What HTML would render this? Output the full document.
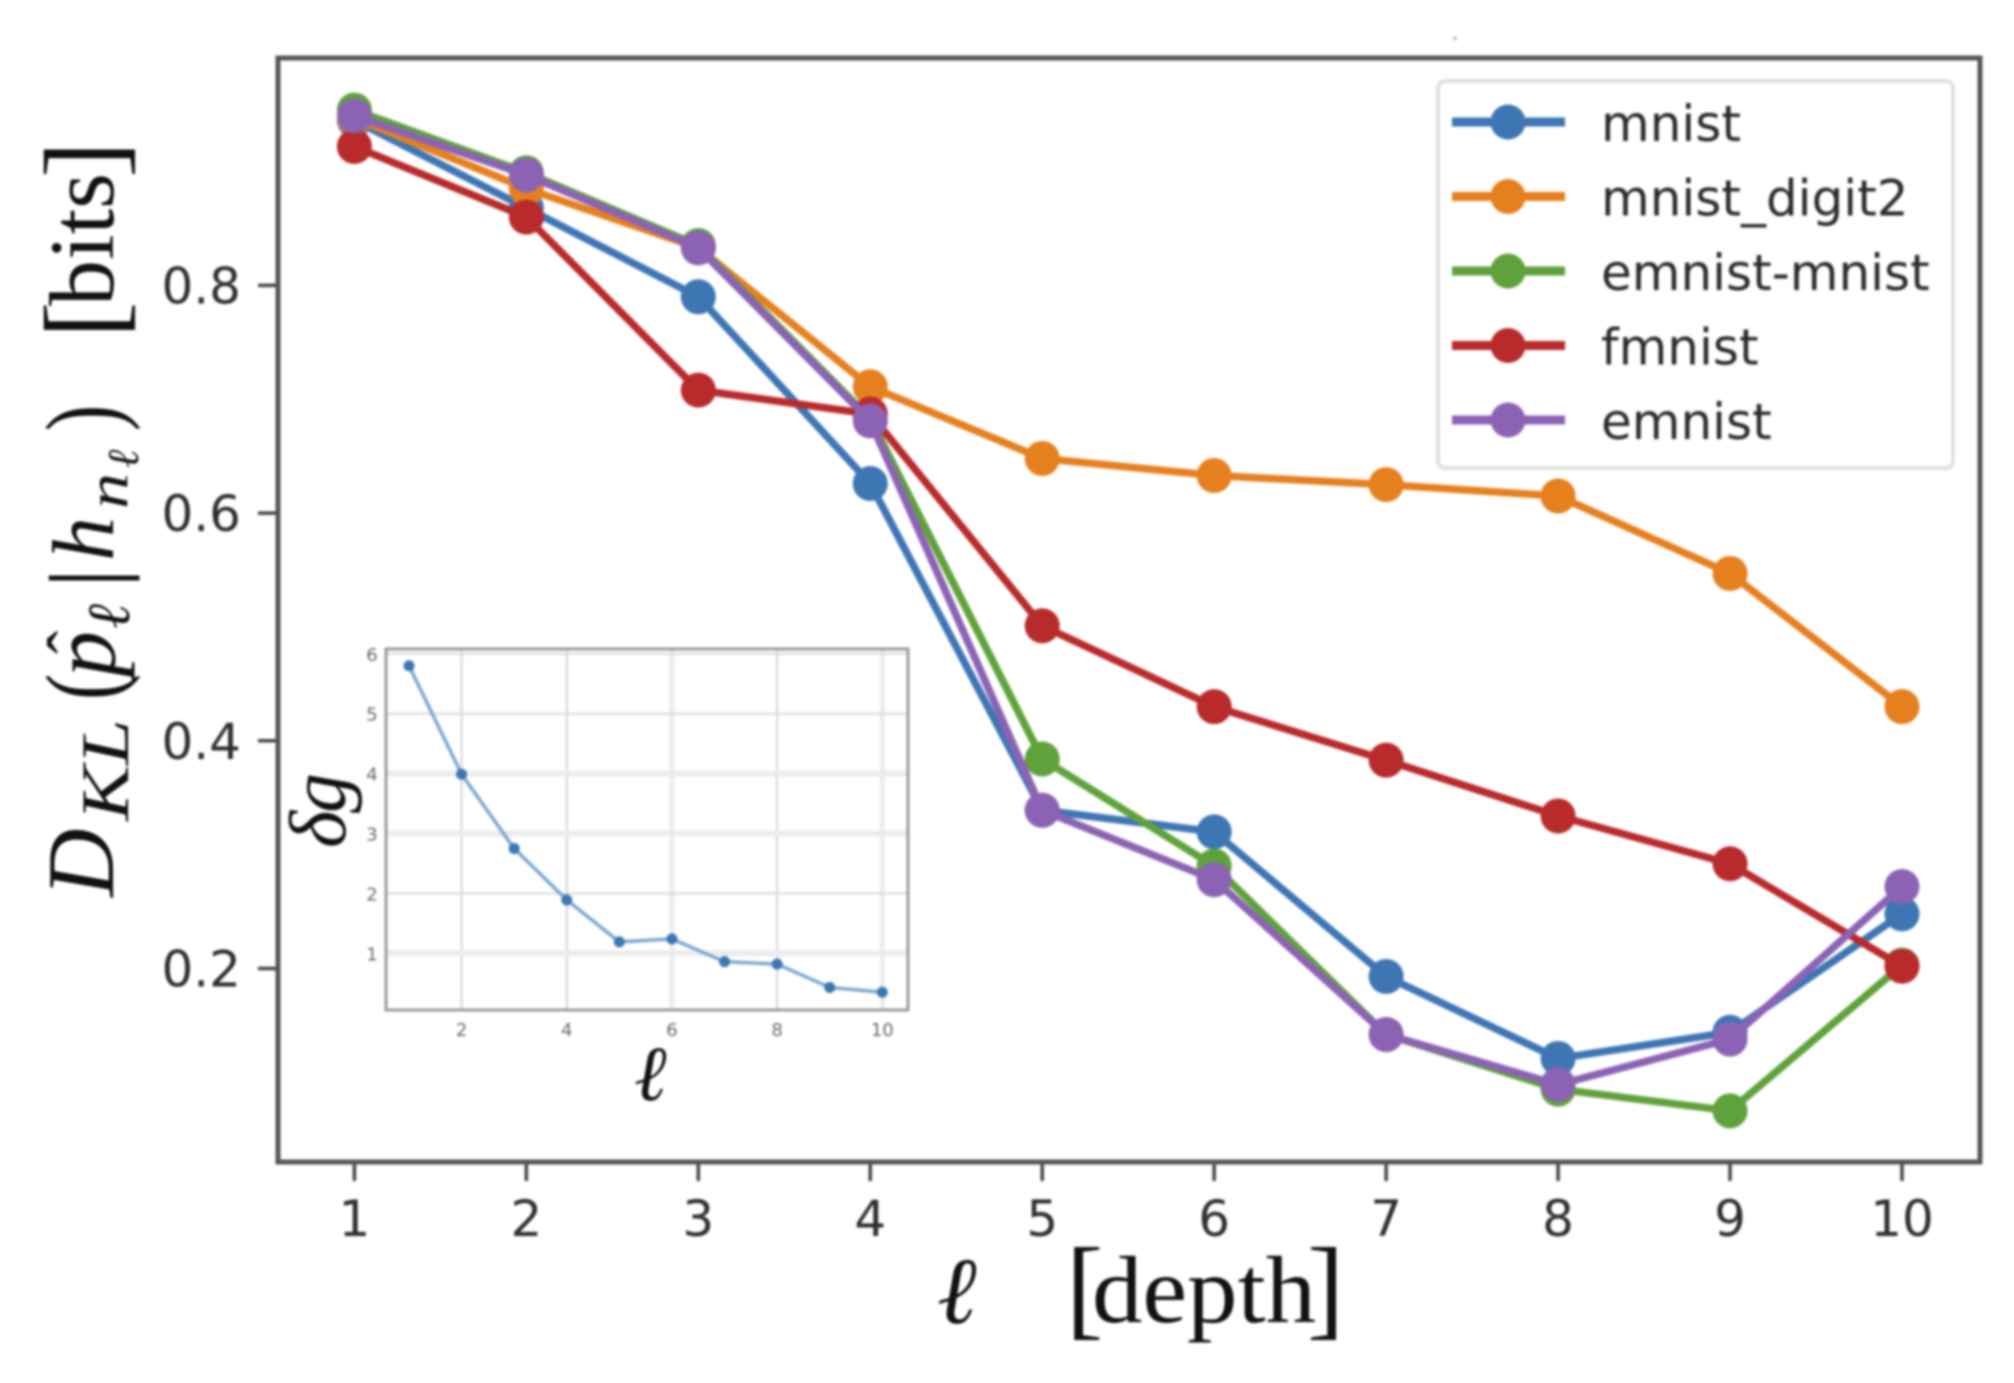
<!DOCTYPE html>
<html lang="en">
<head>
<meta charset="utf-8">
<title>KL divergence by depth</title>
<style>
  html, body { margin: 0; padding: 0; background: #fff; }
  #chart { display: block; width: 2014px; height: 1383px; filter: blur(1.3px); }
  .tick { font-family: "DejaVu Sans", sans-serif; font-size: 50px; fill: #2e2e2e; }
  .legend-text { font-family: "DejaVu Sans", sans-serif; font-size: 50px; fill: #2a2a2a; }
  .inset-tick { font-family: "DejaVu Sans", sans-serif; font-size: 18px; fill: #666; }
  .serif { font-family: "Liberation Serif", "DejaVu Serif", serif; fill: #111; }
  .it { font-style: italic; }
</style>
</head>
<body>
<svg id="chart" xmlns="http://www.w3.org/2000/svg" width="2014" height="1383" viewBox="0 0 2014 1383">
  <rect x="0" y="0" width="2014" height="1383" fill="#fff"/>
  <rect x="1453" y="37" width="4" height="3" fill="#bbb"/>
  <g id="main-plot"></g>
  <g id="inset-plot"></g>
  <g id="legend"></g>

  <g>
    <text class="serif it" font-size="95" transform="translate(113,897) rotate(-90)">D</text>
    <text class="serif it" font-size="68" textLength="102" lengthAdjust="spacingAndGlyphs" transform="translate(128,821) rotate(-90)">KL</text>
    <text class="serif" font-size="105" fill="#333" transform="translate(118,700) rotate(-90) scale(0.75,1)">(</text>
    <text class="serif it" font-size="92" transform="translate(115,677) rotate(-90)">p</text>
    <text class="serif" font-size="70" transform="translate(96,654) rotate(-90)">ˆ</text>
    <text class="serif it" font-size="60" transform="translate(129,629) rotate(-90)">ℓ</text>
    <text class="serif" font-size="100" transform="translate(118,588) rotate(-90)">|</text>
    <text class="serif it" font-size="88" transform="translate(113,561) rotate(-90)">h</text>
    <text class="serif it" font-size="58" textLength="36" lengthAdjust="spacingAndGlyphs" transform="translate(127,509) rotate(-90)">n</text>
    <text class="serif it" font-size="44" transform="translate(138,468) rotate(-90)">ℓ</text>
    <text class="serif" font-size="105" fill="#333" transform="translate(118,431) rotate(-90) scale(0.75,1)">)</text>
    <text class="serif" font-size="110" transform="translate(120,338) rotate(-90)">[</text>
    <text class="serif" font-size="92" textLength="133" lengthAdjust="spacingAndGlyphs" transform="translate(113,306) rotate(-90)">bits</text>
    <text class="serif" font-size="110" transform="translate(120,178) rotate(-90)">]</text>
  </g>

  <g>
    <text class="serif it" font-size="95" fill="#222" x="937" y="1323">ℓ</text>
    <text class="serif" font-size="112" x="1066" y="1325">[</text>
    <text class="serif" font-size="95" x="1092" y="1322" textLength="224" lengthAdjust="spacingAndGlyphs">depth</text>
    <text class="serif" font-size="112" x="1307" y="1325">]</text>
  </g>

  <g>
    <text class="serif it" font-size="80" textLength="75" lengthAdjust="spacing" transform="translate(345,848) rotate(-90)">δg</text>
  </g>
  <g>
    <text class="serif it" font-size="78" x="634" y="1100">ℓ</text>
  </g>
</svg>

<script>
const depths = [1, 2, 3, 4, 5, 6, 7, 8, 9, 10];
const mainYTicks = [0.2, 0.4, 0.6, 0.8];
const mnistValues = [0.945, 0.868, 0.790, 0.626, 0.339, 0.320, 0.193, 0.121, 0.144, 0.248];
const digit2Values = [0.947, 0.885, 0.833, 0.711, 0.648, 0.633, 0.625, 0.615, 0.547, 0.430];
const emnistMnistValues = [0.954, 0.899, 0.835, 0.683, 0.384, 0.290, 0.142, 0.094, 0.075, 0.203];
const fmnistValues = [0.922, 0.860, 0.708, 0.687, 0.501, 0.430, 0.383, 0.334, 0.292, 0.202];
const emnistValues = [0.949, 0.897, 0.833, 0.681, 0.339, 0.278, 0.142, 0.098, 0.138, 0.272];
const seriesNames = ['mnist', 'mnist_digit2', 'emnist-mnist', 'fmnist', 'emnist'];

const insetDepths = [1, 2, 3, 4, 5, 6, 7, 8, 9, 10];
const insetValues = [5.80, 3.99, 2.75, 1.89, 1.19, 1.24, 0.86, 0.82, 0.43, 0.35];
const insetXTicks = [2, 4, 6, 8, 10];
const insetYTicks = [1, 2, 3, 4, 5, 6];

const allSeries = [mnistValues, digit2Values, emnistMnistValues, fmnistValues, emnistValues];
const seriesColors = ['#3e76b4', '#e6801f', '#5fa23b', '#b92a2c', '#8c63b4'];

const NS = 'http://www.w3.org/2000/svg';
function make(tag, attrs, parent, text) {
  const el = document.createElementNS(NS, tag);
  for (const k in attrs) el.setAttribute(k, attrs[k]);
  if (text !== undefined) el.textContent = text;
  parent.appendChild(el);
  return el;
}
function linear(d0, d1, r0, r1) {
  return function (v) { return r0 + (v - d0) * (r1 - r0) / (d1 - d0); };
}
function slug(s) { return String(s).replace(/[^a-zA-Z0-9]+/g, '-').toLowerCase(); }

/* Main axes */
const xMain = linear(1, 10, 354.4, 1902);
const yMain = linear(0.2, 0.8, 968.5, 285.4);
const mainBox = { left: 278, right: 1980, top: 58, bottom: 1162 };
const mainG = document.getElementById('main-plot');

depths.forEach(function (d) {
  const tick = make('line', { x1: xMain(d), x2: xMain(d), y1: mainBox.bottom, y2: mainBox.bottom + 19, stroke: '#444', 'stroke-width': 3.5 }, mainG);
  
  
  const label = make('text', { class: 'tick', x: xMain(d), y: 1236, 'text-anchor': 'middle' }, mainG, String(d));
  
  
});
mainYTicks.forEach(function (t) {
  const tick = make('line', { x1: mainBox.left - 20, x2: mainBox.left, y1: yMain(t), y2: yMain(t), stroke: '#444', 'stroke-width': 3.5 }, mainG);
  
  
  const label = make('text', { class: 'tick', x: 241, y: yMain(t) + 18, 'text-anchor': 'end' }, mainG, t.toFixed(1));
  
  
});
const frame = make('rect', { x: mainBox.left, y: mainBox.top, width: mainBox.right - mainBox.left, height: mainBox.bottom - mainBox.top, fill: 'none', stroke: '#555', 'stroke-width': 5 }, mainG);



allSeries.forEach(function (values, i) {
  const name = slug(seriesNames[i]);
  const g = make('g', {}, mainG);
  
  
  const pts = values.map(function (v, j) { return xMain(depths[j]) + ',' + yMain(v); }).join(' ');
  const line = make('polyline', { points: pts, fill: 'none', stroke: seriesColors[i], 'stroke-width': 7.5, 'stroke-linejoin': 'round' }, g);
  
  
  values.forEach(function (v, j) {
    const dot = make('circle', { cx: xMain(depths[j]), cy: yMain(v), r: 17.5, fill: seriesColors[i] }, g);
    
    
  });
});

/* Legend */
const legendG = document.getElementById('legend');
const legendBox = make('rect', { x: 1438, y: 81, width: 515, height: 387, rx: 7, fill: '#fff', stroke: '#e0e0e0', 'stroke-width': 4 }, legendG);


seriesNames.forEach(function (name, i) {
  const y = 122 + i * 74.5;
  const entry = make('g', {}, legendG);
  
  
  const handle = make('line', { x1: 1452, x2: 1565, y1: y, y2: y, stroke: seriesColors[i], 'stroke-width': 9 }, entry);
  
  
  const marker = make('circle', { cx: 1508, cy: y, r: 17.5, fill: seriesColors[i] }, entry);
  
  
  const label = make('text', { class: 'legend-text', x: 1601, y: y + 19 }, entry, name);
  
  
});

/* Inset axes */
const xInset = linear(2, 10, 461.6, 882.3);
const yInset = linear(1, 5, 953.3, 713.7);
const insetBox = { left: 386, right: 908, top: 649, bottom: 1010 };
const insetG = document.getElementById('inset-plot');

insetXTicks.forEach(function (t) {
  const wide = t === 6 || t === 10;
  const grid = make('line', { x1: xInset(t), x2: xInset(t), y1: insetBox.top, y2: insetBox.bottom, stroke: wide ? '#ececec' : '#d4d4d4', 'stroke-width': wide ? 5 : 2 }, insetG);
  
  
  const label = make('text', { class: 'inset-tick', x: xInset(t), y: 1036, 'text-anchor': 'middle' }, insetG, String(t));
  
  
});
insetYTicks.forEach(function (t) {
  const wide = t === 4 || t === 3 || t === 1;
  const grid = make('line', { x1: insetBox.left, x2: insetBox.right, y1: yInset(t), y2: yInset(t), stroke: wide ? '#ececec' : '#d8d8d8', 'stroke-width': wide ? 6 : 2 }, insetG);
  
  
  const label = make('text', { class: 'inset-tick', x: 372, y: yInset(t) + 7, 'text-anchor': 'middle' }, insetG, String(t));
  
  
});
const insetFrame = make('rect', { x: insetBox.left, y: insetBox.top, width: insetBox.right - insetBox.left, height: insetBox.bottom - insetBox.top, fill: 'none', stroke: '#9a9a9a', 'stroke-width': 3 }, insetG);



const insetPts = insetValues.map(function (v, j) { return xInset(insetDepths[j]) + ',' + yInset(v); }).join(' ');
const insetLine = make('polyline', { points: insetPts, fill: 'none', stroke: '#7aa8d2', 'stroke-width': 3.5 }, insetG);


insetValues.forEach(function (v, j) {
  const dot = make('circle', { cx: xInset(insetDepths[j]), cy: yInset(v), r: 5.5, fill: '#3e76b4' }, insetG);
  
  
});
</script>
</body>
</html>
